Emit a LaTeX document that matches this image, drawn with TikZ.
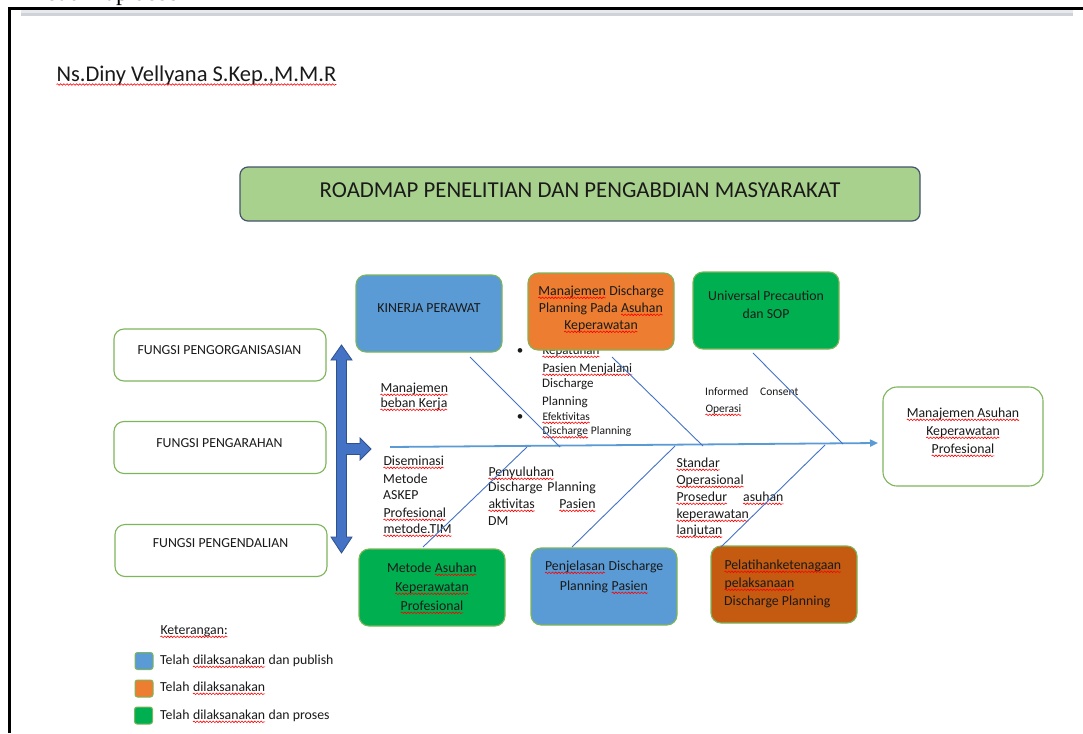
\documentclass[tikz,border=0pt]{standalone}
\usepackage{fontspec}
\setmainfont{Carlito}
\newfontfamily\serifcut{Liberation Serif}
\usetikzlibrary{arrows.meta,decorations.pathmorphing}
\definecolor{bbox}{HTML}{5B9BD5}
\definecolor{obox}{HTML}{ED7D31}
\definecolor{gbox}{HTML}{00B050}
\definecolor{dobox}{HTML}{C55A11}
\definecolor{bord}{HTML}{7DB55A}
\definecolor{titlefill}{HTML}{A9D18E}
\definecolor{titlebord}{HTML}{44546A}
\definecolor{arrfill}{HTML}{4472C4}
\definecolor{arrbord}{HTML}{2F528F}
\definecolor{bone}{HTML}{4472C4}
\definecolor{spinec}{HTML}{5B9BD5}
\definecolor{barlight}{HTML}{E6E9EE}
\definecolor{bardark}{HTML}{CFD2D6}
\definecolor{txt}{HTML}{1A1A1A}
\newcommand\sq[1]{\tikz[baseline=(sqw.base)]{\node[inner sep=0pt,outer sep=0pt,draw=none,fill=none,text=txt,anchor=base west,minimum width=0pt,minimum height=0pt,rounded corners=0pt] (sqw) at (0pt,0pt) {#1};\draw[red,line width=0.6pt,decorate,decoration={snake,amplitude=0.8pt,segment length=3.2pt}] ([yshift=-2.8pt]sqw.base west) -- ([yshift=-2.8pt]sqw.base east);}}
\tikzset{
  rbox/.style={draw=bord, line width=1.1, rounded corners=10, inner sep=0, minimum width=146, minimum height=77},
  fbox/.style={draw=bord, line width=1.1, rounded corners=10, inner sep=0, fill=white, minimum width=212, minimum height=52},
  lbl/.style={inner sep=0, text=txt, font=\fontsize{13.8}{16}\selectfont},
  blt/.style={inner sep=0, text=txt, font=\fontsize{13}{16}\selectfont},
  sml/.style={inner sep=0, text=txt, font=\fontsize{11.5}{14}\selectfont},
  bonel/.style={draw=bone, line width=0.9},
  legsq/.style={draw=bord, line width=1, rounded corners=2.5, inner sep=0, minimum width=18, minimum height=17},
}
\begin{document}
\begin{tikzpicture}[x=1pt,y=-1pt]
\useasboundingbox (0,0) rectangle (1083,733);
% page frame
\fill[white] (0,0) rectangle (1083,733);
\node[inner sep=0, anchor=base west, font=\serifcut\fontsize{24}{24}\selectfont] (cut) at (30,1) {Road map dose};
\fill[barlight] (21,10) rectangle (1073,13.5);
\fill[bardark] (21,13.5) rectangle (1073,16);
\draw[black, line width=2.7] (8,8.7) -- (1083,8.7);
\draw[black, line width=3] (9.5,7.4) -- (9.5,733);
% author
\node[inner sep=0, anchor=base west, text=txt, font=\fontsize{22.5}{26}\selectfont] (author) at (56,81.7) {\sq{Ns.Diny Vellyana S.Kep.,M.M.R}};
% title
\node[draw=titlebord, line width=1.2, fill=titlefill, rounded corners=8, minimum width=680, minimum height=54, inner sep=0] (title) at (580,194) {};
\node[inner sep=0, text=txt, font=\fontsize{22.8}{26}\selectfont] (titlet) at (580,190) {ROADMAP PENELITIAN DAN PENGABDIAN MASYARAKAT};
% left boxes
\node[fbox] (f1) at (220,355) {};
\node[fbox] (f2) at (220,447.5) {};
\node[fbox] (f3) at (221,550.5) {};
\node[lbl, anchor=base] (f1t) at (219.5,354) {FUNGSI PENGORGANISASIAN};
\node[lbl, anchor=base] (f2t) at (219.5,447) {FUNGSI PENGARAHAN};
\node[lbl, anchor=base] (f3t) at (220.5,547) {FUNGSI PENGENDALIAN};
% double arrow with branch
\filldraw[fill=arrfill, draw=arrbord, line width=0.8]
  (341.5,345) -- (352,360) -- (346.5,360) -- (346.5,443.5) -- (360,443.5) -- (360,438)
  -- (371,449) -- (360,460) -- (360,454.5) -- (346.5,454.5) -- (346.5,537) -- (352,537)
  -- (341.5,553) -- (331,537) -- (336.5,537) -- (336.5,360) -- (331,360) -- cycle;
% annotation text behind boxes
\node[blt, anchor=base] (b1) at (520,354) {\textbullet};
\node[blt, anchor=base] (b2) at (520,420) {\textbullet};
\node[blt, anchor=base west] (a1) at (542,354) {\sq{Kepatuhan}};
\node[blt, anchor=base west] (a2) at (542,372) {\sq{Pasien Menjalani}};
\node[blt, anchor=base west] (a3) at (542,387) {Discharge};
\node[blt, anchor=base west] (a4) at (542,405) {Planning};
\node[sml, anchor=base west] (a5) at (542,420) {\sq{Efektivitas}};
\node[sml, anchor=base west] (a6) at (542,434.5) {\sq{Discharge} Planning};
\node[lbl, anchor=base west] (m1) at (380,392) {\sq{Manajemen}};
\node[lbl, anchor=base west] (m2) at (380,407) {\sq{beban Kerja}};
\node[sml, anchor=base west] (i1) at (705,395) {Informed};
\node[sml, anchor=base west] (i2) at (760,395) {Consent};
\node[sml, anchor=base west] (i3) at (705,412) {\sq{Operasi}};
\node[lbl, anchor=base west] (d1) at (383,465) {\sq{Diseminasi}};
\node[lbl, anchor=base west] (d2) at (383,483) {Metode};
\node[lbl, anchor=base west] (d3) at (383,499) {ASKEP};
\node[lbl, anchor=base west] (d4) at (383,517) {\sq{Profesional}};
\node[lbl, anchor=base west] (d5) at (383,533) {\sq{metode.TIM}};
\node[lbl, anchor=base west] (p1) at (488,476) {\sq{Penyuluhan}};
\node[lbl, anchor=base west] (p2) at (488,491) {Discharge};
\node[lbl, anchor=base east] (p2b) at (596,491) {Planning};
\node[lbl, anchor=base west] (p3) at (488,508) {\sq{aktivitas}};
\node[lbl, anchor=base east] (p3b) at (596,508) {\sq{Pasien}};
\node[lbl, anchor=base west] (p4) at (488,525) {DM};
\node[lbl, anchor=base west] (s1) at (676,467) {\sq{Standar}};
\node[lbl, anchor=base west] (s2) at (676,484) {\sq{Operasional}};
\node[lbl, anchor=base west] (s3) at (676,501) {\sq{Prosedur}};
\node[lbl, anchor=base east] (s3b) at (784,501) {\sq{asuhan}};
\node[lbl, anchor=base west] (s4) at (676,518) {\sq{keperawatan}};
\node[lbl, anchor=base west] (s5) at (676,534) {\sq{lanjutan}};
% top boxes
\node[rbox, fill=bbox] (kin) at (429,313.5) {};
\node[rbox, fill=obox] (mdp) at (601,311.5) {};
\node[rbox, fill=gbox] (uni) at (766,310.5) {};
\node[lbl, anchor=base] (kint) at (429,312.5) {KINERJA PERAWAT};
\node[lbl, anchor=base] (mdp1) at (601,295) {\sq{Manajemen} Discharge};
\node[lbl, anchor=base] (mdp2) at (601,312) {Planning Pada \sq{Asuhan}};
\node[lbl, anchor=base] (mdp3) at (601,329) {\sq{Keperawatan}};
\node[lbl, anchor=base] (uni1) at (766,300) {Universal Precaution};
\node[lbl, anchor=base] (uni2) at (766,318) {dan SOP};
% bottom boxes
\node[rbox, fill=gbox] (met) at (432,587.5) {};
\node[rbox, fill=bbox] (pen) at (604,586.5) {};
\node[rbox, fill=dobox] (pel) at (784,584.5) {};
\node[lbl, anchor=base] (met1) at (432,572) {Metode \sq{Asuhan}};
\node[lbl, anchor=base] (met2) at (432,591) {\sq{Keperawatan}};
\node[lbl, anchor=base] (met3) at (432,610) {\sq{Profesional}};
\node[lbl, anchor=base] (pen1) at (604,570) {\sq{Penjelasan} Discharge};
\node[lbl, anchor=base] (pen2) at (604,590) {Planning \sq{Pasien}};
\node[lbl, anchor=base west] (pel1) at (724,569) {\sq{Pelatihanketenagaan}};
\node[lbl, anchor=base west] (pel2) at (724,587) {\sq{pelaksanaan}};
\node[lbl, anchor=base west] (pel3) at (724,605) {Discharge Planning};
% right box
\node[draw=bord, line width=1.1, rounded corners=14, fill=white, minimum width=160, minimum height=99, inner sep=0] (mak) at (963,436.5) {};
\node[lbl, anchor=base] (mak1) at (963,417) {\sq{Manajemen Asuhan}};
\node[lbl, anchor=base] (mak2) at (963,435) {\sq{Keperawatan}};
\node[lbl, anchor=base] (mak3) at (963,453) {\sq{Profesional}};
% fishbone
\coordinate (sp0) at (390,447);
\coordinate (sp1) at (878,443);
\draw[draw=spinec, line width=1.8, -{Triangle[length=8,width=7]}] (sp0) -- (sp1);
\coordinate (u1a) at (470,357); \coordinate (u1b) at (560,447);
\coordinate (u2a) at (612,357); \coordinate (u2b) at (703,446);
\coordinate (u3a) at (753,353); \coordinate (u3b) at (843,444);
\coordinate (l1a) at (423,547); \coordinate (l1b) at (527,447);
\coordinate (l2a) at (572,547); \coordinate (l2b) at (675,446);
\coordinate (l3a) at (721,547); \coordinate (l3b) at (825,445);
\draw[bonel] (u1a) -- (u1b);
\draw[bonel] (u2a) -- (u2b);
\draw[bonel] (u3a) -- (u3b);
\draw[bonel] (l1a) -- (l1b);
\draw[bonel] (l2a) -- (l2b);
\draw[bonel] (l3a) -- (l3b);
% legend
\node[lbl, anchor=base west] (ket) at (160,634) {\sq{Keterangan:}};
\node[legsq, fill=bbox] (lg1) at (144,661) {};
\node[legsq, fill=obox] (lg2) at (144,688.5) {};
\node[legsq, fill=gbox] (lg3) at (143.5,715.5) {};
\node[lbl, anchor=base west] (lt1) at (160,664) {Telah \sq{dilaksanakan} dan publish};
\node[lbl, anchor=base west] (lt2) at (160,691) {Telah \sq{dilaksanakan}};
\node[lbl, anchor=base west] (lt3) at (160,719) {Telah \sq{dilaksanakan} dan proses};
\end{tikzpicture}
\end{document}
